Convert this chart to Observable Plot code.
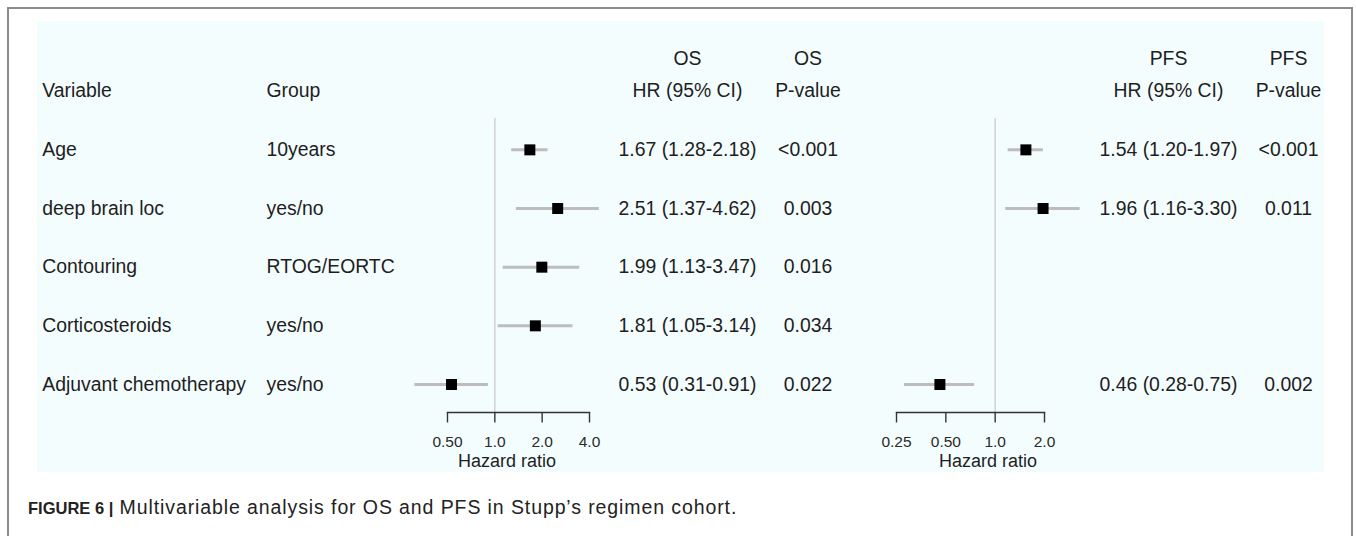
<!DOCTYPE html>
<html><head><meta charset="utf-8">
<script src="https://cdn.jsdelivr.net/npm/d3@7"></script>
<script src="https://cdn.jsdelivr.net/npm/@observablehq/plot@0.6"></script>
<style>
html,body{margin:0;padding:0;background:#fff;}
body{width:1356px;height:536px;position:relative;overflow:hidden;font-family:"Liberation Sans",Arial,Helvetica,sans-serif;}
#border{position:absolute;left:7px;top:7px;width:1346px;height:620px;border:2px solid #8c8c8c;box-sizing:border-box;}
#panel{position:absolute;left:37px;top:21px;width:1287px;height:451px;background:#f4fdfe;}
#panel svg{position:absolute;left:0;top:0;}
#caption{position:absolute;left:28px;top:496px;font-size:19.5px;line-height:22px;color:#222;white-space:nowrap;letter-spacing:0.9px;}
#caption b{font-size:16.5px;letter-spacing:0;}
</style></head><body>
<div id="border"></div>
<div id="panel"></div>
<div id="caption"><b>FIGURE 6 |</b> Multivariable analysis for OS and PFS in Stupp’s regimen cohort.</div>
<script>
// ---- data ----
const variables = ["Age", "deep brain loc", "Contouring", "Corticosteroids", "Adjuvant chemotherapy"];
const groups = ["10years", "yes/no", "RTOG/EORTC", "yes/no", "yes/no"];
const osHR   = [1.67, 2.51, 1.99, 1.81, 0.53];
const osLow  = [1.28, 1.37, 1.13, 1.05, 0.31];
const osHigh = [2.18, 4.62, 3.47, 3.14, 0.91];
const osP    = ["<0.001", "0.003", "0.016", "0.034", "0.022"];
const pfsHR   = [1.54, 1.96, null, null, 0.46];
const pfsLow  = [1.20, 1.16, null, null, 0.28];
const pfsHigh = [1.97, 3.30, null, null, 0.75];
const pfsP    = ["<0.001", "0.011", "", "", "0.002"];
const osTicks = [0.5, 1, 2, 4];
const osTickLabels = ["0.50", "1.0", "2.0", "4.0"];
const pfsTicks = [0.25, 0.5, 1, 2];
const pfsTickLabels = ["0.25", "0.50", "1.0", "2.0"];
const headerTop = {osHR: "OS", osP: "OS", pfsHR: "PFS", pfsP: "PFS"};
const headerBottom = {variable: "Variable", group: "Group", osHR: "HR (95% CI)", osP: "P-value", pfsHR: "HR (95% CI)", pfsP: "P-value"};
const xLabel = "Hazard ratio";

// ---- layout ----
const W = 1287, H = 451;
const FONT = '"Liberation Sans", Arial, Helvetica, sans-serif';
const yScale = {domain: [0, 5], range: [69.7, 363], axis: null};
const headerTopRow = -0.557, headerBottomRow = 0;
const columns = {
  variable: {x: 4.7, anchor: "start"},
  group: {x: 229, anchor: "start"},
  osHR: {x: 650, anchor: "middle"},
  osP: {x: 770.5, anchor: "middle"},
  pfsHR: {x: 1131, anchor: "middle"},
  pfsP: {x: 1251, anchor: "middle"}
};

const fmt = d3.format(".2f");
const hrText = (h, l, u) => h == null ? "" : `${fmt(h)} (${fmt(l)}-${fmt(u)})`;

const cells = [];
for (const [k, t] of Object.entries(headerTop)) cells.push({row: headerTopRow, col: k, text: t});
for (const [k, t] of Object.entries(headerBottom)) cells.push({row: headerBottomRow, col: k, text: t});
variables.forEach((v, i) => {
  const r = i + 1;
  cells.push({row: r, col: "variable", text: v});
  cells.push({row: r, col: "group", text: groups[i]});
  cells.push({row: r, col: "osHR", text: hrText(osHR[i], osLow[i], osHigh[i])});
  cells.push({row: r, col: "osP", text: osP[i]});
  cells.push({row: r, col: "pfsHR", text: hrText(pfsHR[i], pfsLow[i], pfsHigh[i])});
  cells.push({row: r, col: "pfsP", text: pfsP[i]});
});
cells.forEach(c => { c.x = columns[c.col].x; c.anchor = columns[c.col].anchor; });

const panel = document.getElementById("panel");

const table = Plot.plot({
  width: W, height: H, margin: 0,
  style: {background: "transparent", fontFamily: FONT, overflow: "visible"},
  x: {domain: [0, W], range: [0, W], axis: null},
  y: yScale,
  marks: [
    Plot.text(cells.filter(c => c.anchor === "start"), {x: "x", y: "row", text: "text", textAnchor: "start", fontSize: 19.4, fill: "#1e1e1e"}),
    Plot.text(cells.filter(c => c.anchor === "middle"), {x: "x", y: "row", text: "text", textAnchor: "middle", fontSize: 19.4, fill: "#1e1e1e"})
  ]
});
panel.appendChild(table);

function forest(hr, lo, hi, ticks, tickLabels, mL, mR, labelDx) {
  const rows = variables.map((v, i) => ({row: i + 1, hr: hr[i], lo: lo[i], hi: hi[i]})).filter(d => d.hr != null);
  return Plot.plot({
    width: W, height: H, marginLeft: mL, marginRight: mR, marginTop: 20, marginBottom: 60,
    style: {background: "transparent", fontFamily: FONT, overflow: "visible"},
    x: {type: "log", domain: [ticks[0], ticks[ticks.length - 1]]},
    y: yScale,
    marks: [
      Plot.ruleX([1], {insetTop: 77, stroke: "#d2d2d2", strokeWidth: 1.5}),
      Plot.ruleY(rows, {y: "row", x1: "lo", x2: "hi", stroke: "#bdbdbd", strokeWidth: 3}),
      Plot.dot(rows, {x: "hr", y: "row", symbol: "square", r: 6.2, fill: "#000", stroke: null}),
      Plot.frame({anchor: "bottom", stroke: "#333", strokeWidth: 1.4}),
      Plot.axisX({ticks, tickFormat: d => tickLabels[ticks.indexOf(d)], tickSize: 10.5, tickPadding: 13, fontSize: 15.5, stroke: "#333", strokeWidth: 1.4, fill: "#2a2a2a", label: null}),
      Plot.text([xLabel], {frameAnchor: "bottom", lineAnchor: "middle", dy: 49, dx: labelDx, fontSize: 18, fill: "#1e1e1e"})
    ]
  });
}
panel.appendChild(forest(osHR, osLow, osHigh, osTicks, osTickLabels, 410, W - 552, -11.5));
panel.appendChild(forest(pfsHR, pfsLow, pfsHigh, pfsTicks, pfsTickLabels, 859, W - 1007, 17.5));
</script>
</body></html>
